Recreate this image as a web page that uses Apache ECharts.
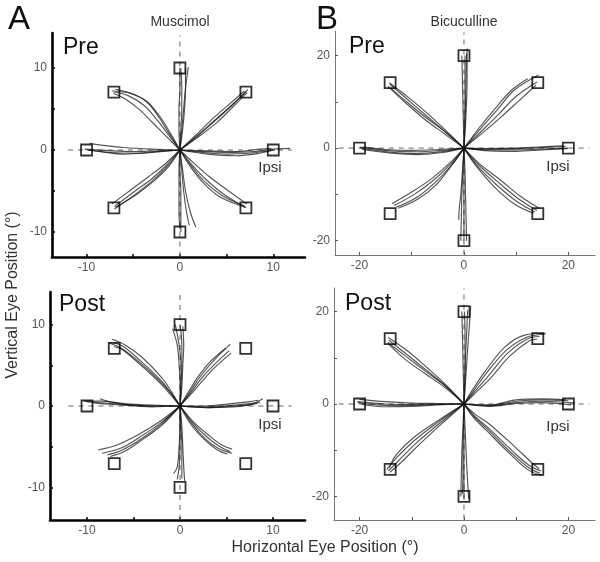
<!DOCTYPE html>
<html><head><meta charset="utf-8">
<script src="https://cdn.jsdelivr.net/npm/echarts@6/dist/echarts.min.js"></script>
<style>html,body{margin:0;padding:0;background:#fff}#c{width:600px;height:562px}</style>
</head><body><div id="c"></div>
<script>
// ---------------- DATA ----------------
const targetsA = [[10,0],[7.07,7.07],[0,10],[-7.07,7.07],[-10,0],[-7.07,-7.07],[0,-10],[7.07,-7.07]];
const targetsB = [[20,0],[14.14,14.14],[0,20],[-14.14,14.14],[-20,0],[-14.14,-14.14],[0,-20],[14.14,-14.14]];
const ticksA = [-10,-5,0,5,10];
const labelsA = [-10,0,10];
const ticksB = [-20,-10,0,10,20];
const labelsB = [-20,0,20];

// eye traces, Muscimol Pre
const tracesAPre = [
 [[0,0],[2.5,-0.3],[5,-0.5],[7.5,-0.4],[9.5,-0.1],[10.2,0]],
 [[0,0],[2.5,-0.2],[5,-0.3],[8,-0.2],[10,0.1],[11.8,0.2]],
 [[0,0],[3,-0.5],[6,-0.7],[8.5,-0.4],[10,0]],
 [[0,0],[3,-0.1],[6,-0.2],[8.5,0.1],[9.8,0.2]],
 [[0,0],[1.8,1.7],[3.6,3.5],[5.4,5.3],[7.1,7.1]],
 [[0,0],[2,1.8],[4,3.8],[5.8,5.7],[7.3,7.4]],
 [[0,0],[1.7,1.8],[3.4,3.7],[5.2,5.5],[6.9,7.2]],
 [[0,0],[2,1.6],[4,3.4],[5.8,5.4],[7.2,7.0]],
 [[0,0],[0.1,2.5],[0.2,5],[0.2,7.5],[0.1,10]],
 [[0,0],[0.3,2.5],[0.5,5],[0.6,7.5],[0.6,10]],
 [[0,0],[0.2,2.5],[0.4,5],[0.6,7.5],[0.9,10.1]],
 [[0,0],[-0.1,2.5],[-0.1,5],[0,7.5],[0,10]],
 [[0,0],[-1.2,1.8],[-2.4,3.6],[-3.8,5.4],[-5.5,6.6],[-7.1,7.1]],
 [[0,0],[-1,2],[-2.1,4],[-3.5,5.9],[-5.3,6.9],[-7.3,7.2]],
 [[0,0],[-1.4,1.6],[-2.8,3.2],[-4.3,4.9],[-5.8,6.2],[-7.1,6.9]],
 [[0,0],[-1.1,1.9],[-2.2,3.9],[-3.4,5.7],[-4.9,6.8],[-6.9,7.4]],
 [[0,0],[-2.5,-0.2],[-5,-0.4],[-7.5,-0.3],[-10,0]],
 [[0,0],[-2.5,-0.1],[-5,-0.2],[-7.5,-0.1],[-10.2,0.1]],
 [[0,0],[-3,-0.3],[-6,-0.5],[-8.5,-0.2],[-9.8,0]],
 [[0,0],[-3,0.1],[-6,0.3],[-8.5,0.6],[-9.7,0.8]],
 [[0,0],[-1.4,-1.8],[-3,-3.5],[-4.8,-5],[-7,-6.9]],
 [[0,0],[-1.2,-2],[-2.8,-3.8],[-4.6,-5.4],[-6.9,-7]],
 [[0,0],[-1.6,-1.7],[-3.4,-3.3],[-5.3,-4.9],[-7.3,-6.6]],
 [[0,0],[-1.3,-1.9],[-2.9,-3.7],[-4.9,-5.5],[-7,-7.2]],
 [[0,0],[0,-2.5],[0.1,-5],[0.1,-7.5],[0.1,-10]],
 [[0,0],[0.2,-2.5],[0.4,-5],[0.7,-7.5],[1.0,-9.2]],
 [[0,0],[0.3,-2.5],[0.6,-5],[1.1,-7.5],[1.7,-9.4]],
 [[0,0],[-0.1,-2.5],[-0.1,-5],[-0.1,-7.5],[0,-9.6]],
 [[0,0],[1.3,-1.8],[2.8,-3.6],[4.7,-5.4],[7,-7]],
 [[0,0],[1.1,-2],[2.5,-4],[4.4,-5.8],[7.1,-7]],
 [[0,0],[1.5,-1.6],[3.2,-3.3],[5.1,-4.9],[7.2,-6.6]],
 [[0,0],[1.2,-1.9],[2.6,-3.8],[4.6,-5.6],[6.9,-6.8]]
];
// Muscimol Post
const tracesAPost = [
 [[0,0],[2.9,-0.1],[5.7,0.1],[7.5,0.3],[8.6,0.45]],
 [[0,0],[2.8,-0.2],[5.6,0],[7.6,0.2],[8.9,0.9]],
 [[0,0],[3,-0.2],[5.8,-0.1],[7.4,0.1],[8.3,0.3]],
 [[0,0],[2.7,0],[5.5,0.3],[7.3,0.5],[8.4,0.7]],
 [[0,0],[1.2,1.7],[2.3,3.4],[3.6,5],[5.3,6.8]],
 [[0,0],[1.1,1.8],[2.1,3.5],[3.4,5.3],[5.4,7.6]],
 [[0,0],[1.3,1.6],[2.5,3.2],[3.8,4.8],[5.5,6.5]],
 [[0,0],[1.0,1.9],[2.0,3.7],[3.3,5.5],[4.9,7.1]],
 [[0,0],[0.1,2.5],[0.2,5],[0.2,7.5],[0,10]],
 [[0,0],[0.2,2.5],[0.3,5],[0.4,7.5],[0.3,9.8]],
 [[0,0],[0,2.5],[-0.1,5],[-0.3,7.5],[-0.8,9.5]],
 [[0,0],[0.1,2.5],[0.1,5],[-0.1,7.5],[-0.5,10]],
 [[0,0],[-1,1.6],[-2.1,3.2],[-4.3,5.6],[-6.1,7.3],[-7.2,7.8]],
 [[0,0],[-1.1,1.5],[-2.3,3],[-4.5,5.3],[-6.2,6.9],[-7.1,7.3]],
 [[0,0],[-0.9,1.7],[-1.9,3.4],[-4,5.9],[-5.9,7.5],[-7.3,8.2]],
 [[0,0],[-1,1.6],[-2.2,3.1],[-4.4,5.4],[-6.3,7.1],[-7.6,7.7]],
 [[0,0],[-3,0],[-6,0.2],[-8.5,0.4],[-10,0.5]],
 [[0,0],[-3,0.1],[-6,0.3],[-8.5,0.6],[-10.3,0.6]],
 [[0,0],[-3,-0.1],[-5.5,0.1],[-7.5,0.5],[-8.6,0.9]],
 [[0,0],[-3,0],[-6,0.1],[-8.5,0.3],[-9.5,0.4]],
 [[0,0],[-2.1,-2.1],[-4.3,-3.8],[-6.4,-5.2],[-8.4,-5.8]],
 [[0,0],[-2,-2.2],[-4.1,-4],[-6.2,-5.4],[-7.8,-6]],
 [[0,0],[-2.3,-2],[-4.6,-3.6],[-6.8,-4.8],[-8.8,-5.4]],
 [[0,0],[-1.9,-2.3],[-4,-4.1],[-6,-5.6],[-7.5,-6.2]],
 [[0,0],[0.1,-2.5],[0.2,-5],[0.2,-7.5],[0.2,-8.9]],
 [[0,0],[0,-2.5],[-0.1,-5],[-0.3,-7.5],[-0.7,-8.3]],
 [[0,0],[0.2,-2.5],[0.3,-5],[0.4,-7.5],[0.5,-9.2]],
 [[0,0],[0,-2.5],[0,-5],[-0.1,-7.5],[-0.3,-9]],
 [[0,0],[1.4,-2.1],[2.9,-3.8],[4.3,-5],[5.4,-5.6]],
 [[0,0],[1.3,-2.2],[2.7,-4],[4.1,-5.2],[5.6,-5.8]],
 [[0,0],[1.5,-2],[3.1,-3.6],[4.5,-4.8],[5.6,-5.3]],
 [[0,0],[1.2,-2.3],[2.6,-4.1],[3.9,-5.3],[5.1,-5.9]]
];
// Bicuculline Pre
const tracesBPre = [
 [[0,0],[5,-0.4],[10,-0.4],[15,-0.2],[20,0]],
 [[0,0],[5,-0.2],[10,-0.1],[15,0.1],[19.5,0.4]],
 [[0,0],[5,-0.6],[10,-0.7],[15,-0.4],[19.8,-0.1]],
 [[0,0],[5,-0.1],[10,0],[15,0.3],[19,0.5]],
 [[0,0],[3.5,3.8],[6.8,7.5],[10,11.2],[14,14.3]],
 [[0,0],[3.2,4.2],[6.4,8.3],[9.6,12.5],[14.3,15.8]],
 [[0,0],[3.8,3.5],[7.2,6.8],[10.5,10.2],[13.8,13.6]],
 [[0,0],[3,4.5],[6,8.6],[9.2,12.6],[12.2,15]],
 [[0,0],[0.1,5],[0.2,10],[0.2,15],[0.2,20]],
 [[0,0],[0.3,5],[0.5,10],[0.6,15],[0.6,21.5]],
 [[0,0],[-0.1,5],[-0.2,10],[-0.3,15],[-0.4,20]],
 [[0,0],[0.2,5],[0.3,10],[0.4,15],[0.5,20.5]],
 [[0,0],[-3.6,3.5],[-7.2,7],[-10.8,10.5],[-14.2,13.8]],
 [[0,0],[-3.4,3.7],[-7,7.5],[-10.6,10.9],[-14.3,14.1]],
 [[0,0],[-3.9,3.2],[-7.6,6.3],[-11.2,9.8],[-14.6,13.4]],
 [[0,0],[-3.5,3.4],[-7.3,6.6],[-11,10],[-14.1,13]],
 [[0,0],[-4.5,-0.8],[-9,-1.2],[-14,-0.9],[-19.8,0]],
 [[0,0],[-4.5,-0.5],[-9,-0.8],[-14,-0.6],[-20,0.2]],
 [[0,0],[-4.5,-1],[-9,-1.4],[-14,-1.1],[-19.5,-0.3]],
 [[0,0],[-5,-0.3],[-10,-0.5],[-15,-0.3],[-19.3,0.3]],
 [[0,0],[-2.5,-3.4],[-5.9,-7],[-9.5,-10],[-13.4,-12.4]],
 [[0,0],[-2.3,-3.6],[-5.6,-7.5],[-9,-10.6],[-13,-12.8]],
 [[0,0],[-2.7,-3.2],[-6.2,-6.6],[-10,-9.5],[-13.8,-12]],
 [[0,0],[-2.4,-3.8],[-5.4,-8],[-8.8,-11],[-12.6,-13]],
 [[0,0],[0,-5],[0,-10],[0,-15],[0,-20]],
 [[0,0],[-0.2,-5],[-0.4,-10],[-0.5,-15],[-0.6,-20]],
 [[0,0],[0.2,-5],[0.3,-10],[0.4,-15],[0.5,-20]],
 [[0,0],[-0.3,-5],[-0.6,-10],[-0.9,-13],[-1,-15.5]],
 [[0,0],[2.8,-3.6],[6.8,-7.6],[10.5,-11],[14,-13.5]],
 [[0,0],[2.6,-3.9],[6.5,-8.2],[10.2,-11.6],[13.6,-13.8]],
 [[0,0],[3,-3.4],[7.1,-7],[10.8,-10.4],[14.4,-13]],
 [[0,0],[2.5,-4.1],[6.2,-8.8],[9.8,-12.2],[13.3,-14.1]]
];
// Bicuculline Post
const tracesBPost = [
 [[0,0],[5,-0.3],[10,0.6],[15,0.9],[20,0.7]],
 [[0,0],[5,-0.4],[10,0.3],[15,0.6],[21.3,0.2]],
 [[0,0],[5,-0.2],[10,0.9],[15,1.1],[19.5,0.9]],
 [[0,0],[5,-0.5],[10,0.1],[15,0.3],[20.5,-0.2]],
 [[0,0],[1.8,2.8],[4.3,6.7],[8.1,11.6],[11.9,14.4],[15.5,15.1]],
 [[0,0],[2,2.6],[4.6,6],[8.4,11],[12.2,14.1],[14.5,14.6]],
 [[0,0],[1.6,3],[4,7],[7.8,12.3],[11.6,14.9],[15.7,15.3]],
 [[0,0],[2.2,2.4],[5,5.5],[8.8,10.4],[12.4,13.6],[14,14]],
 [[0,0],[0.1,5],[0.2,10],[0.2,15],[0.1,20]],
 [[0,0],[0.3,5],[0.6,10],[0.9,15],[1.3,21.2]],
 [[0,0],[-0.1,5],[-0.2,10],[-0.3,15],[-0.4,20]],
 [[0,0],[0.2,5],[0.3,10],[0.5,15],[0.7,20.3]],
 [[0,0],[-3.5,3.9],[-7.2,7.3],[-10.8,10.6],[-14.4,13.8]],
 [[0,0],[-3.4,4.1],[-7,7.8],[-10.6,11.3],[-14.5,14.4]],
 [[0,0],[-3.7,3.6],[-7.5,6.6],[-11.2,9.6],[-14.3,12.8]],
 [[0,0],[-3.5,3.8],[-7.3,7],[-11,10.2],[-14.6,13.3]],
 [[0,0],[-5,-0.1],[-10,-0.3],[-15,-0.3],[-20.3,0.3]],
 [[0,0],[-5,0],[-10,-0.1],[-15,0],[-20.5,0.5]],
 [[0,0],[-5,-0.2],[-10,-0.5],[-15,-0.6],[-19.6,-0.1]],
 [[0,0],[-5,0.1],[-10,0.2],[-15,0.5],[-20,1]],
 [[0,0],[-4.6,-4.1],[-9.1,-8.4],[-12.3,-12],[-14.5,-14.5]],
 [[0,0],[-4.8,-3.8],[-9.5,-7.9],[-12.8,-11.5],[-14.8,-14.2]],
 [[0,0],[-4.4,-4.4],[-8.7,-8.9],[-11.9,-12.5],[-14.2,-14.8]],
 [[0,0],[-5,-3.6],[-9.8,-7.4],[-13,-11],[-14.3,-13.8]],
 [[0,0],[0,-5],[0,-10],[0,-15],[0,-20.5]],
 [[0,0],[-0.2,-5],[-0.4,-10],[-0.5,-15],[-0.6,-20]],
 [[0,0],[0.2,-5],[0.4,-10],[0.6,-15],[0.9,-20.6]],
 [[0,0],[-0.1,-5],[-0.2,-10],[-0.2,-15],[-0.3,-19.5]],
 [[0,0],[2,-2.6],[4.3,-4.8],[9.3,-10.2],[12.5,-13.3],[14.8,-14.5]],
 [[0,0],[1.8,-2.9],[4.1,-5.5],[9,-11],[12.2,-14.2],[15,-15.5]],
 [[0,0],[2.2,-2.3],[4.6,-4.1],[9.6,-9.1],[12.9,-12.6],[14.4,-14]],
 [[0,0],[1.9,-2.7],[4.2,-5.1],[9.1,-10.6],[12.4,-13.8],[14.6,-15]]
];
// dashed reference lines (data coords)
const guideAH = [[-12,0],[12,0]];
const guideAV = [[0,-13],[0,14]];
const guideAVPost = [[0,-14],[0,14]];
const guideBH = [[-24,0],[24,0]];
const guideBV = [[0,-23],[0,25]];
const guideBVPost = [[0,-25],[0,25]];

// ---------------- LAYOUT ----------------
const FONT = '"Liberation Sans", Arial, sans-serif';
const panels = [
 {traces: tracesAPre,  targets: targetsA, gh: guideAH, gv: guideAV, ticks: ticksA, labels: labelsA, bold: true,
  grid: {left: 52, top: 33, width: 253, height: 224}, x: [-13.7, 13.4], y: [-13.05, 14.27]},
 {traces: tracesBPre,  targets: targetsB, gh: guideBH, gv: guideBV, ticks: ticksB, labels: labelsB, bold: false,
  grid: {left: 335, top: 31, width: 260, height: 224}, x: [-24.7, 25.1], y: [-23.1, 25.3]},
 {traces: tracesAPost, targets: targetsA, gh: guideAH, gv: guideAVPost, ticks: ticksA, labels: labelsA, bold: true,
  grid: {left: 50, top: 292, width: 255, height: 228}, x: [-13.98, 13.44], y: [-14, 14]},
 {traces: tracesBPost, targets: targetsB, gh: guideBH, gv: guideBVPost, ticks: ticksB, labels: labelsB, bold: false,
  grid: {left: 334, top: 288, width: 261, height: 232}, x: [-24.9, 25.1], y: [-25.1, 25.1]}
];

const grids = [], xAxes = [], yAxes = [], series = [];
panels.forEach((p, i) => {
  grids.push(Object.assign({containLabel: false, outerBoundsMode: 'none'}, p.grid));
  const axLine = p.bold ? {lineStyle: {color: '#000', width: 2.6}} : {lineStyle: {color: '#777', width: 1}};
  const common = {
    type: 'value', splitLine: {show: false},
    axisLine: Object.assign({show: true, onZero: false}, axLine),
    axisTick: {show: true, inside: true, length: 3, customValues: p.ticks, lineStyle: {color: p.bold ? '#000' : '#555', width: p.bold ? 1.5 : 1}},
    axisLabel: {customValues: p.labels, color: '#555', fontSize: 12, fontFamily: FONT, margin: 5}
  };
  xAxes.push(Object.assign({}, common, {gridIndex: i, min: p.x[0], max: p.x[1]}));
  yAxes.push(Object.assign({}, common, {gridIndex: i, min: p.y[0], max: p.y[1]}));
  const guide = {type: 'line', xAxisIndex: i, yAxisIndex: i, showSymbol: false, silent: true, z: 1,
    lineStyle: {color: '#666', width: 1, type: [5, 5]}};
  series.push(Object.assign({}, guide, {data: p.gh}));
  series.push(Object.assign({}, guide, {data: p.gv}));
  p.traces.forEach(t => {
    series.push({type: 'line', xAxisIndex: i, yAxisIndex: i, data: t, showSymbol: false, silent: true,
      smooth: 0.35, z: 2, lineStyle: {color: 'rgba(20,20,20,0.72)', width: 1.15}});
  });
  series.push({type: 'scatter', xAxisIndex: i, yAxisIndex: i, data: p.targets, symbol: 'rect', symbolSize: 11,
    silent: true, z: 3, itemStyle: {color: 'rgba(0,0,0,0)', borderColor: '#000', borderWidth: 1.8}});
});

const txt = (x, y, s, size, opts) => Object.assign({type: 'text', x: x, y: y,
  style: Object.assign({text: s, fontSize: size, fontFamily: FONT, fill: '#111', textAlign: 'left', textVerticalAlign: 'middle'}, opts || {})});

const graphic = [
  txt(8, 20, 'A', 33),
  txt(316, 20, 'B', 33),
  txt(180, 22, 'Muscimol', 14, {textAlign: 'center', fill: '#333'}),
  txt(464, 22, 'Bicuculline', 14, {textAlign: 'center', fill: '#333'}),
  txt(63, 48, 'Pre', 23),
  txt(349, 47, 'Pre', 23),
  txt(59, 305, 'Post', 23),
  txt(345, 304, 'Post', 23),
  txt(270, 168, 'Ipsi', 15, {textAlign: 'center', fill: '#333'}),
  txt(558, 167, 'Ipsi', 15, {textAlign: 'center', fill: '#333'}),
  txt(270, 425, 'Ipsi', 15, {textAlign: 'center', fill: '#333'}),
  txt(558, 427, 'Ipsi', 15, {textAlign: 'center', fill: '#333'}),
  txt(325, 548, 'Horizontal Eye Position (°)', 16, {textAlign: 'center', fill: '#333'}),
  {type: 'text', x: 13, y: 295, rotation: Math.PI / 2,
   style: {text: 'Vertical Eye Position (°)', fontSize: 16, fontFamily: FONT, fill: '#333', textAlign: 'center', textVerticalAlign: 'middle'}}
];

const chart = echarts.init(document.getElementById('c'), null, {renderer: 'canvas'});
chart.setOption({animation: false, backgroundColor: '#fff', grid: grids, xAxis: xAxes, yAxis: yAxes, series: series, graphic: graphic});
</script></body></html>
